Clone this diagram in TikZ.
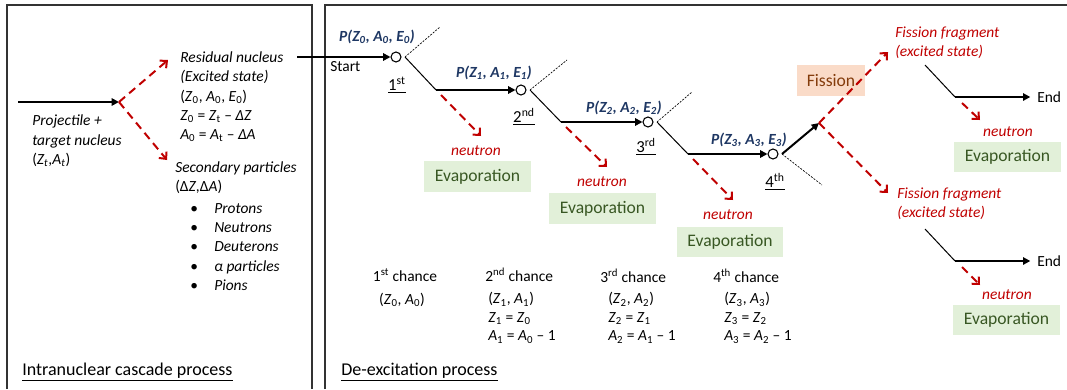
\documentclass[tikz,border=0pt]{standalone}
\usepackage{fontspec}
\setmainfont{Carlito}
\usetikzlibrary{arrows.meta,calc}
\definecolor{dred}{HTML}{C00000}
\definecolor{navy}{HTML}{1F3864}
\definecolor{evfill}{HTML}{E2F0D9}
\definecolor{evtext}{HTML}{385723}
\definecolor{fifill}{HTML}{FADBC8}
\definecolor{fitext}{HTML}{843C0C}
\newcommand\fs{\fontsize{11.6pt}{14.4pt}\selectfont}
\newcommand\fl{\fontsize{13.2pt}{16pt}\selectfont}
\newcommand\ft{\fontsize{13.5pt}{16pt}\selectfont}
\newcommand\vv[2]{\textit{#1}\textsubscript{#2}}
\tikzset{
 lbl/.style={inner sep=0pt, font=\fs},
 blk/.style={line width=1.5pt, -{Triangle[length=5.5pt,width=5.5pt]}},
 thinln/.style={line width=0.75pt},
 tick/.style={line width=0.5pt, dash pattern=on 1.5pt off 1pt},
 rd/.style={draw=dred, line width=1.5pt, dash pattern=on 6pt off 4pt, -{Straight Barb[length=4pt,width=7.5pt]}},
 circ/.style={circle, draw, line width=0.8pt, minimum size=7.5pt, inner sep=0pt},
 ev/.style={fill=evfill, text=evtext, font=\fl, minimum width=80pt, minimum height=23pt, inner sep=0pt},
 neu/.style={lbl, text=dred, font=\fs\itshape},
 pl/.style={lbl, text=navy, font=\fs\bfseries\itshape},
 ordl/.style={lbl, font=\fontsize{12.6pt}{15pt}\selectfont},
 frame/.style={line width=0.8pt, black!80},
}
\begin{document}
\begin{tikzpicture}[x=0.75pt,y=-0.75pt]
\fill[white] (0,0) rectangle (1067,389);
\useasboundingbox (0,0) rectangle (1067,389);
% frames
\draw[frame] (7,389) -- (7,5) -- (312,5) -- (312,389);
\draw[frame] (325,389) -- (325,5) -- (1067,5);
% ---------------- left box
\coordinate (pin) at (18,102);
\coordinate (hit) at (119,102);
\draw[blk] (pin) -- (hit);
\node[lbl, anchor=west, align=left] (proj) at (32,141) {\textit{Projectile +}\\\textit{target nucleus}\\(\textit{Z\textsubscript{t}},\textit{A\textsubscript{t}})};
\coordinate (resa) at (168,60);
\coordinate (seca) at (167,160);
\draw[rd] (hit) -- (resa);
\draw[rd] (hit) -- (seca);
\node[lbl, anchor=west, align=left] (res) at (180,97) {\textit{Residual nucleus}\\\textit{(Excited state)}\\(\vv{Z}{0}, \vv{A}{0}, \vv{E}{0})\\\vv{Z}{0} = \vv{Z}{t} – \textit{ΔZ}\\\vv{A}{0} = \vv{A}{t} – \textit{ΔA}};
\node[lbl, anchor=west, align=left] (sec) at (175,178) {\textit{Secondary particles}\\(Δ\textit{Z},Δ\textit{A})};
\node[lbl, anchor=west, align=left] (list) at (190,247) {\makebox[18pt][l]{•}\textit{Protons}\\\makebox[18pt][l]{•}\textit{Neutrons}\\\makebox[18pt][l]{•}\textit{Deuterons}\\\makebox[18pt][l]{•}\textit{α particles}\\\makebox[18pt][l]{•}\textit{Pions}};
\node[lbl, font=\ft, anchor=west] (intra) at (22,372) {\underline{Intranuclear cascade process}};
% ---------------- de-excitation chain
\coordinate (rs) at (297,57);
\node[circ] (c1) at (396,57) {};
\node[circ] (c2) at (521,90) {};
\node[circ] (c3) at (648,122) {};
\node[circ] (c4) at (773,154) {};
\draw[blk] (rs) -- (c1.west);
\node[lbl, anchor=west] (start) at (330,67) {Start};
\node[pl] (p0) at (377,37) {P(Z\textsubscript{0}, A\textsubscript{0}, E\textsubscript{0})};
\node[pl] (p1) at (494,73) {P(Z\textsubscript{1}, A\textsubscript{1}, E\textsubscript{1})};
\node[pl] (p2) at (624,108) {P(Z\textsubscript{2}, A\textsubscript{2}, E\textsubscript{2})};
\node[pl] (p3) at (749,140) {P(Z\textsubscript{3}, A\textsubscript{3}, E\textsubscript{3})};
\node[ordl] (o1) at (397,85) {\underline{1\textsuperscript{st}}};
\node[ordl] (o2) at (524,117) {\underline{2\textsuperscript{nd}}};
\node[ordl] (o3) at (646,147) {\underline{3\textsuperscript{rd}}};
\node[ordl] (o4) at (775,182) {\underline{4\textsuperscript{th}}};
% vertices
\coordinate (v1) at (405,57);  \coordinate (u1) at (440,27);  \coordinate (k1) at (436,90);
\coordinate (v2) at (530,90);  \coordinate (u2) at (567,60);  \coordinate (k2) at (561,122);
\coordinate (v3) at (657,122); \coordinate (u3) at (692,92);  \coordinate (k3) at (688,154);
\coordinate (v4) at (782,154); \coordinate (u4) at (822,185); \coordinate (fp) at (819,123);
\draw[tick] (v1) -- (u1); \draw[thinln] (v1) -- (k1); \draw[blk] (k1) -- (c2.west);
\draw[tick] (v2) -- (u2); \draw[thinln] (v2) -- (k2); \draw[blk] (k2) -- (c3.west);
\draw[tick] (v3) -- (u3); \draw[thinln] (v3) -- (k3); \draw[blk] (k3) -- (c4.west);
\draw[tick] (v4) -- (u4); \draw[blk] (v4) -- (fp);
% neutron emissions
\coordinate (s1) at (441,95);  \coordinate (e1) at (481,136);
\coordinate (s2) at (566,127); \coordinate (e2) at (607,167);
\coordinate (s3) at (693,159); \coordinate (e3) at (733,200);
\draw[rd] (s1) -- (e1);
\draw[rd] (s2) -- (e2);
\draw[rd] (s3) -- (e3);
\node[neu] (n1) at (476,151) {neutron};
\node[neu] (n2) at (602,182) {neutron};
\node[neu] (n3) at (728,215) {neutron};
\node[ev] (ev1) at (477.5,176.5) {Evaporation};
\node[ev] (ev2) at (602.5,208.5) {Evaporation};
\node[ev] (ev3) at (730,242) {Evaporation};
% fission
\node[fill=fifill, text=fitext, font=\fl, minimum width=51pt, minimum height=23pt, inner sep=0pt] (fis) at (831,80.5) {Fission};
\coordinate (f1) at (888,52);
\coordinate (f2) at (888,193);
\draw[rd] (fp) -- (f1);
\draw[rd] (fp) -- (f2);
\node[neu, anchor=west, align=left] (ff1) at (895,42.5) {Fission fragment\\(excited state)};
\node[neu, anchor=west, align=left] (ff2) at (897,203.5) {Fission fragment\\(excited state)};
% fragment branches
\coordinate (a1) at (925,65);  \coordinate (b1) at (955,97);
\coordinate (a2) at (925,229); \coordinate (b2) at (955,261);
\node[lbl, anchor=west] (end1) at (1037,97) {End};
\node[lbl, anchor=west] (end2) at (1037,261) {End};
\draw[thinln] (a1) -- (b1); \draw[blk] (b1) -- ([xshift=-5pt]end1.west);
\draw[thinln] (a2) -- (b2); \draw[blk] (b2) -- ([xshift=-5pt]end2.west);
\coordinate (s4) at (962,103); \coordinate (e4) at (980,120);
\coordinate (s5) at (962,267); \coordinate (e5) at (980,285);
\draw[rd] (s4) -- (e4);
\draw[rd] (s5) -- (e5);
\node[neu] (n4) at (1008,132) {neutron};
\node[neu] (n5) at (1007,295) {neutron};
\node[ev] (ev4) at (1007.5,157) {Evaporation};
\node[ev] (ev5) at (1006.5,320) {Evaporation};
% chances
\node[lbl] (ch1) at (405,275) {1\textsuperscript{st} chance};
\node[lbl] (ch1b) at (402,300) {(\vv{Z}{0}, \vv{A}{0})};
\node[lbl, anchor=west] (ch2) at (485,275) {2\textsuperscript{nd} chance};
\node[lbl, anchor=west, align=left, font=\fontsize{11.6pt}{13.9pt}\selectfont] (ch2b) at (488,318) {(\vv{Z}{1}, \vv{A}{1})\\\vv{Z}{1} = \vv{Z}{0}\\\vv{A}{1} = \vv{A}{0} – 1};
\node[lbl, anchor=west] (ch3) at (600,276) {3\textsuperscript{rd} chance};
\node[lbl, anchor=west, align=left, font=\fontsize{11.6pt}{13.9pt}\selectfont] (ch3b) at (608,318) {(\vv{Z}{2}, \vv{A}{2})\\\vv{Z}{2} = \vv{Z}{1}\\\vv{A}{2} = \vv{A}{1} – 1};
\node[lbl, anchor=west] (ch4) at (713,276) {4\textsuperscript{th} chance};
\node[lbl, anchor=west, align=left, font=\fontsize{11.6pt}{13.9pt}\selectfont] (ch4b) at (724,318) {(\vv{Z}{3}, \vv{A}{3})\\\vv{Z}{3} = \vv{Z}{2}\\\vv{A}{3} = \vv{A}{2} – 1};
\node[lbl, font=\ft, anchor=west] (deex) at (341,372) {\underline{De-excitation process}};
\end{tikzpicture}
\end{document}
